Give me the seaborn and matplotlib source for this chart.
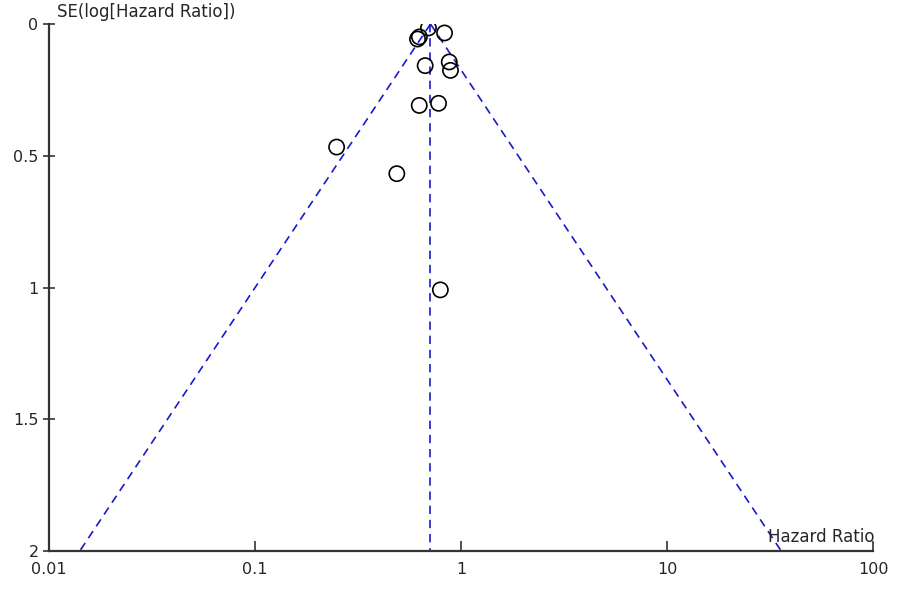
import numpy as np
import pandas as pd
import matplotlib
matplotlib.use("Agg")
import matplotlib.pyplot as plt
import seaborn as sns

# Study estimates
hazard_ratio = [0.695, 0.832, 0.615, 0.628, 0.670, 0.877, 0.889, 0.627, 0.778, 0.249, 0.488, 0.794]
se_log_hr = [0.015, 0.034, 0.057, 0.049, 0.158, 0.144, 0.176, 0.309, 0.301, 0.467, 0.568, 1.009]
pooled_hr = 0.711
se_max = 2.0
z_crit = 1.96

x_ticks = [0.01, 0.1, 1, 10, 100]
x_tick_labels = ["0.01", "0.1", "1", "10", "100"]
y_ticks = [0, 0.5, 1, 1.5, 2]
y_tick_labels = ["0", "0.5", "1", "1.5", "2"]

df = pd.DataFrame({"hr": hazard_ratio, "se": se_log_hr})

sns.set_style("white")
plt.rcParams["font.family"] = ["DejaVu Sans"]

fig = plt.figure(figsize=(9, 6), dpi=100)
ax = fig.add_axes([49 / 900, 49 / 600, (873 - 49) / 900, (551 - 24) / 600])

line_col = "#1a1acc"
se_line = np.array([0.0, se_max])
lo = np.exp(np.log(pooled_hr) - z_crit * se_line)
hi = np.exp(np.log(pooled_hr) + z_crit * se_line)
dash = (0, (5, 3.5))
ax.plot(lo, se_line, ls=dash, color=line_col, lw=1.2, zorder=1)
ax.plot(hi, se_line, ls=dash, color=line_col, lw=1.2, zorder=1)
ax.plot([pooled_hr, pooled_hr], se_line, ls=dash, color=line_col, lw=1.2, zorder=1)

sns.scatterplot(data=df, x="hr", y="se", ax=ax, s=120, facecolor="none",
                edgecolor="black", linewidth=1.2, zorder=3, legend=False)

ax.set_xscale("log")
ax.set_xlim(0.01, 100)
ax.set_ylim(2, 0)
ax.set_xticks(x_ticks)
ax.set_xticklabels(x_tick_labels)
ax.set_yticks(y_ticks)
ax.set_yticklabels(y_tick_labels)
ax.xaxis.set_minor_locator(matplotlib.ticker.NullLocator())
ax.set_xlabel("")
ax.set_ylabel("")

for s in ["top", "right"]:
    ax.spines[s].set_visible(False)
for s in ["left", "bottom"]:
    ax.spines[s].set_color("#333333")
    ax.spines[s].set_linewidth(1.6)

ax.tick_params(axis="x", direction="in", length=7, width=1.2, color="#333333",
               labelsize=11.5, pad=8, bottom=True)
ax.tick_params(axis="y", direction="inout", length=9, width=1.2, color="#333333",
               labelsize=11.5, pad=3, left=True)

fig.text(57 / 900, 1 - 12 / 600, "SE(log[Hazard Ratio])", fontsize=12,
         ha="left", va="center")
fig.text(875 / 900, 1 - 537 / 600, "Hazard Ratio", fontsize=12,
         ha="right", va="center")

fig.savefig("out.png", dpi=100)
